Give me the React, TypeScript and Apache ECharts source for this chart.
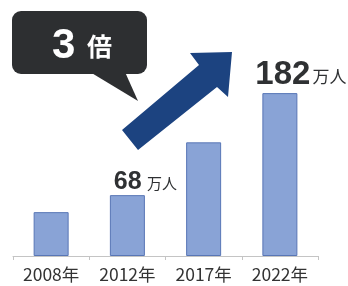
import React, { useEffect, useRef } from "react";
import * as echarts from "echarts";

const categories = ["2008年", "2012年", "2017年", "2022年"];
const workers = [49, 68, 127, 182];
const labelledIndex = [1, 3];
const calloutText = "3";
const calloutUnit = "倍";
const unit = "万人";

export default function App() {
  const ref = useRef<HTMLDivElement>(null);
  useEffect(() => {
    if (!ref.current) return;
    const chart = echarts.init(ref.current, null, { renderer: "svg" });
    const data = workers.map((v, i) => {
      if (!labelledIndex.includes(i)) return v;
      const big = i === 3;
      return {
        value: v,
        label: {
          show: true,
          position: "top",
          distance: big ? 4 : 3,
          offset: big ? [21, 0] : [18, 0],
          formatter: `{n|${v}}{u|${big ? "" : " "}${unit}}`,
          rich: {
            n: {
              fontFamily: "Liberation Sans, Arial, sans-serif",
              fontWeight: "bold",
              fontSize: big ? 33 : 25,
              color: "#2f3133",
            },
            u: {
              fontFamily: "Noto Sans CJK JP",
              fontSize: big ? 17 : 15,
              color: "#2f3133",
              padding: [5, 0, 0, 2],
            },
          },
        },
      };
    });
    chart.setOption({
      animation: false,
      grid: { left: 13, right: 30, top: 77, bottom: 30 },
      xAxis: {
        type: "category",
        data: categories,
        axisLine: { lineStyle: { color: "#c4c4c4", width: 1 } },
        axisTick: { show: true, length: 4, lineStyle: { color: "#c4c4c4" } },
        axisLabel: {
          fontFamily: "Noto Sans CJK JP",
          fontSize: 17.5,
          color: "#333333",
          margin: 9,
        },
      },
      yAxis: {
        type: "value",
        min: 0,
        max: 200,
        show: false,
        splitLine: { show: false },
      },
      series: [
        {
          type: "bar",
          data,
          barWidth: 35,
          itemStyle: {
            color: "#89a3d6",
            borderColor: "#5876b6",
            borderWidth: 1,
          },
        },
      ],
      graphic: [
        {
          type: "rect",
          shape: { x: 12, y: 11, width: 135, height: 63, r: 9 },
          style: { fill: "#2d2f31" },
        },
        {
          type: "polygon",
          shape: { points: [[90, 72], [125, 72], [138, 101]] },
          style: { fill: "#2d2f31" },
        },
        {
          type: "text",
          x: 52,
          y: 22,
          style: {
            text: calloutText,
            fill: "#ffffff",
            fontFamily: "Liberation Sans, Arial, sans-serif",
            fontWeight: "bold",
            fontSize: 42,
          },
        },
        {
          type: "text",
          x: 87,
          y: 32,
          style: {
            text: calloutUnit,
            fill: "#ffffff",
            fontFamily: "Noto Sans CJK JP",
            fontWeight: "bold",
            fontSize: 25,
          },
        },
        {
          type: "polygon",
          shape: {
            points: [
              [122, 130],
              [199, 65],
              [190, 53],
              [232, 52],
              [228, 97],
              [217, 87],
              [138, 150],
            ],
          },
          style: { fill: "#1c4380" },
        },
      ],
    });
    return () => chart.dispose();
  }, []);
  return (
    <div
      ref={ref}
      style={{ position: "fixed", left: 0, top: 0, width: 348, height: 286 }}
    />
  );
}
